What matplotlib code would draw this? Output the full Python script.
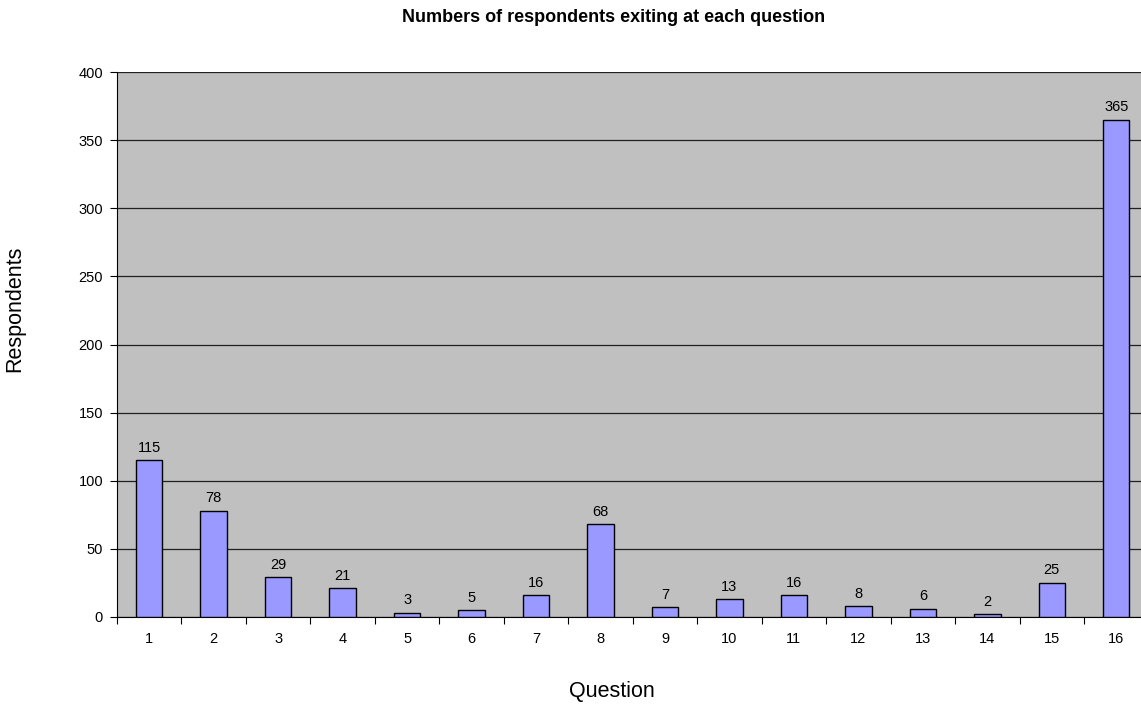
import matplotlib.pyplot as plt

questions = [str(i) for i in range(1, 17)]
respondents = [115, 78, 29, 21, 3, 5, 16, 68, 7, 13, 16, 8, 6, 2, 25, 365]

plt.rcParams['font.family'] = ['Liberation Sans', 'DejaVu Sans']

fig = plt.figure(figsize=(11.41, 7.04), dpi=100)
ax = fig.add_axes([117 / 1141, 87 / 704, 1031.5 / 1141, 545 / 704])
ax.set_facecolor('#C0C0C0')

x = list(range(len(questions)))
ax.bar(x, respondents, width=0.41, color='#9999FF', edgecolor='black', linewidth=1, zorder=3)
for xi, v in zip(x, respondents):
    ax.annotate(str(v), (xi, v), xytext=(0, 4), textcoords='offset points',
                ha='center', va='bottom', fontsize=10.5)

ax.set_xlim(-0.5, len(questions) - 0.5)
ax.set_ylim(0, 400)
ax.set_yticks(range(0, 401, 50))
ax.yaxis.grid(True, color='#202020', linewidth=0.9, zorder=0)
ax.set_axisbelow(True)

# category ticks sit between the bars, labels at the centers
ax.set_xticks([i - 0.5 for i in range(len(questions) + 1)])
ax.set_xticklabels([])
ax.set_xticks(x, minor=True)
ax.set_xticklabels(questions, minor=True, fontsize=10.5)
ax.tick_params(axis='x', which='minor', length=0, pad=11)
ax.tick_params(axis='x', which='major', length=5, direction='out')
ax.tick_params(axis='y', length=5, direction='out', labelsize=10.5, pad=5)

for side in ['top', 'right']:
    ax.spines[side].set_visible(False)
ax.spines['left'].set_color('black')
ax.spines['bottom'].set_color('black')

fig.text(614 / 1141, 1 - 18 / 704, 'Numbers of respondents exiting at each question',
         ha='center', va='center', fontsize=13, fontweight='bold')
fig.text(612 / 1141, 1 - 692 / 704, 'Question', ha='center', va='center', fontsize=15.5)
fig.text(15 / 1141, 1 - 309 / 704, 'Respondents', ha='center', va='center',
         fontsize=15.5, rotation=90)

fig.savefig('out.png', dpi=100)
